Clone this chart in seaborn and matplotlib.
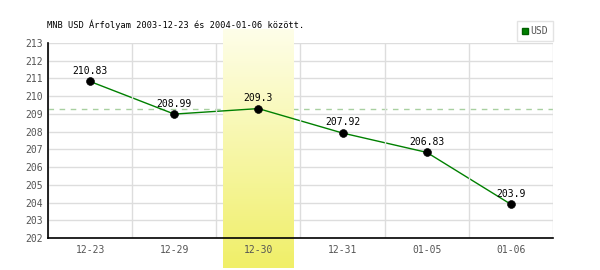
import numpy as np
import matplotlib
matplotlib.use("Agg")
import matplotlib.pyplot as plt
import seaborn as sns
from matplotlib.lines import Line2D
from matplotlib.colors import LinearSegmentedColormap

dates = ["12-23", "12-29", "12-30", "12-31", "01-05", "01-06"]
values = [210.83, 208.99, 209.3, 207.92, 206.83, 203.9]
highlight_idx = 2
title = "MNB USD Árfolyam 2003-12-23 és 2004-01-06 között."
series_name = "USD"

sns.set_theme(style="white")
plt.rcParams['font.family'] = ['DejaVu Sans Mono', 'DejaVu Sans']

fig = plt.figure(figsize=(6, 2.7), dpi=100)
ax = fig.add_axes([48/600, 1-238/270, 505/600, 195/270])
ax.set_facecolor("white")

x = np.arange(len(dates))

# grid
ax.set_yticks(np.arange(202, 214, 1))
ax.set_xticks(x)
ax.set_xticks(np.arange(-0.5, len(dates), 1), minor=True)
ax.grid(True, axis='y', which='major', color='#dddddd', lw=1)
ax.grid(True, axis='x', which='minor', color='#dddddd', lw=1)
ax.set_axisbelow(True)
ax.xaxis.set_zorder(2.6)

# highlight band with gradient
grad = np.linspace(0, 1, 256).reshape(-1, 1)
cmap = LinearSegmentedColormap.from_list("band", ["#fefee9", "#f0ef68"])
ax.imshow(grad, cmap=cmap, aspect='auto', origin='upper',
          extent=[highlight_idx - 0.42, highlight_idx + 0.42, 200.3, 213.75],
          zorder=1, clip_on=False, interpolation='bilinear')
ax.set_xlim(-0.5, len(dates) - 0.5)
ax.set_ylim(202, 213)

# reference dashed line
ax.axhline(values[highlight_idx], color='#a8d0a0', lw=1, dashes=(4, 4), zorder=0.8)

sns.lineplot(x=x, y=values, ax=ax, color='#008000', lw=1, zorder=2, legend=False)
sns.scatterplot(x=x, y=values, ax=ax, color='black', s=32, edgecolor='black',
                zorder=3, legend=False)

for xi, v in zip(x, values):
    ax.annotate(f"{v:g}", (xi, v), xytext=(0, 4), textcoords='offset points',
                ha='center', va='bottom', fontsize=7, color='black', zorder=4)

ax.set_xticklabels(dates)
for lab in ax.get_xticklabels() + ax.get_yticklabels():
    lab.set_fontsize(7)
    lab.set_color('#555555')
ax.tick_params(axis='both', which='both', length=0)
ax.tick_params(axis='y', pad=4)
ax.tick_params(axis='x', pad=5)

for s in ['top', 'right']:
    ax.spines[s].set_visible(False)
for s in ['left', 'bottom']:
    ax.spines[s].set_color('black')
    ax.spines[s].set_linewidth(1.2)
    ax.spines[s].set_zorder(2.8)

ax.set_xlabel("")
ax.set_ylabel("")

fig.text(47/600, 1-25/270, title, fontsize=6.2, color='black', ha='left', va='center')

handle = Line2D([], [], marker='s', color='#008000', markersize=5, lw=0,
                markeredgecolor='#006000')
leg = fig.legend([handle], [series_name], loc='lower right',
                 bbox_to_anchor=(553/600, 1-41/270), frameon=True, fancybox=False,
                 fontsize=7, handlelength=0.6, handletextpad=0.3, borderpad=0.5,
                 borderaxespad=0)
leg.get_frame().set_edgecolor('#dddddd')
leg.get_frame().set_linewidth(1)
for t in leg.get_texts():
    t.set_color('#555555')

fig.savefig("out.png", dpi=100)
